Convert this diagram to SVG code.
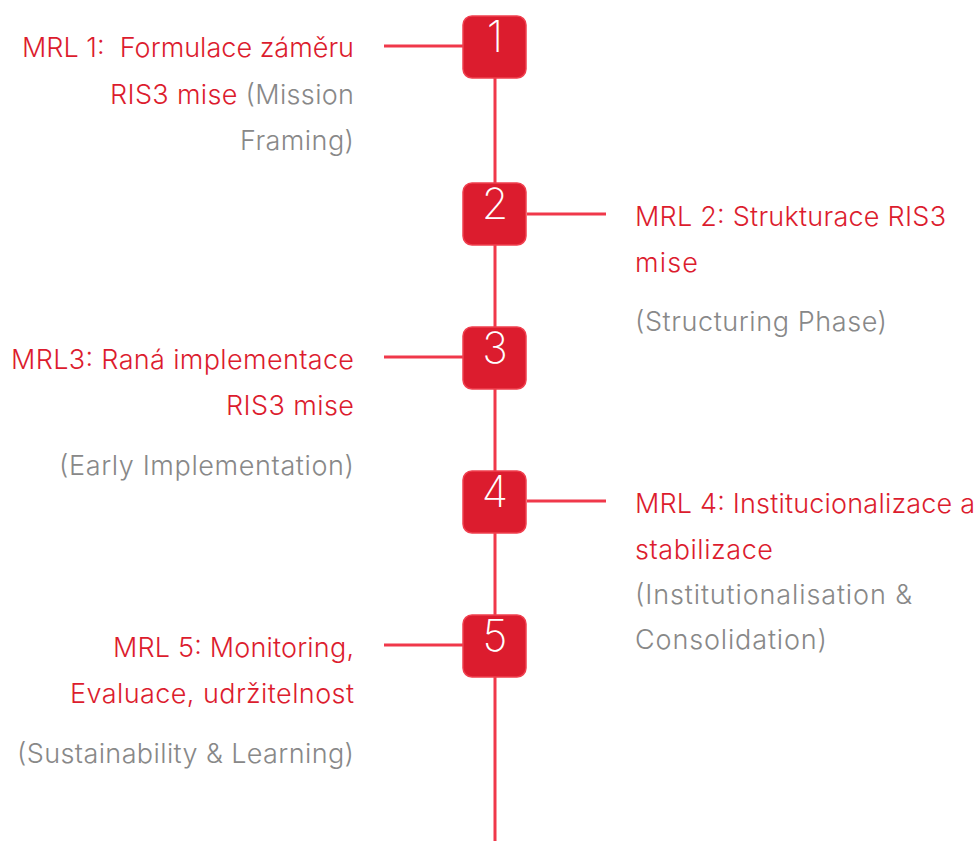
<svg xmlns="http://www.w3.org/2000/svg" width="978" height="841" viewBox="0 0 978 841">
<style>
.box{fill:#dc1c2e;stroke:#f0404f;stroke-width:1.5}
.num{fill:#fff;font-family:Inter,"Liberation Sans",sans-serif;font-weight:200;font-size:43px;text-anchor:middle}
.ln{stroke:#f0384a;stroke-width:3;fill:none}
.t{font-family:Inter,"Liberation Sans",sans-serif;font-weight:300;font-size:27px}
.r{fill:#dc1c2e}
.g{fill:#888}
.L{text-anchor:end}
</style>
<rect width="978" height="841" fill="#fff"/>
<g id="connectors">
<line class="ln" x1="495" y1="78" x2="495" y2="841"/>
<line class="ln" x1="384" y1="46" x2="463" y2="46"/>
<line class="ln" x1="527" y1="214" x2="606" y2="214"/>
<line class="ln" x1="384" y1="357" x2="463" y2="357"/>
<line class="ln" x1="527" y1="501" x2="606" y2="501"/>
<line class="ln" x1="384" y1="645" x2="463" y2="645"/>
</g>
<g id="n1"><rect class="box" x="463" y="16" width="63" height="62" rx="9"/><text class="num" x="495" y="52">1</text>
<text class="t r L" x="354" y="57" xml:space="preserve" textLength="332" lengthAdjust="spacing">MRL 1:  Formulace záměru</text>
<text class="t L" x="354" y="104" textLength="244" lengthAdjust="spacing"><tspan class="r">RIS3 mise</tspan><tspan class="g"> (Mission</tspan></text>
<text class="t g L" x="354" y="150" textLength="114" lengthAdjust="spacing">Framing)</text></g>
<g id="n2"><rect class="box" x="463" y="183" width="63" height="62" rx="9"/><text class="num" x="495" y="219">2</text>
<text class="t r" x="635" y="226" textLength="311" lengthAdjust="spacing">MRL 2: Strukturace RIS3</text>
<text class="t r" x="635" y="272" textLength="63" lengthAdjust="spacing">mise</text>
<text class="t g" x="635" y="331" textLength="252" lengthAdjust="spacing">(Structuring Phase)</text></g>
<g id="n3"><rect class="box" x="463" y="327" width="63" height="62" rx="9"/><text class="num" x="495" y="363">3</text>
<text class="t r L" x="354" y="369" textLength="343" lengthAdjust="spacing">MRL3: Raná implementace</text>
<text class="t r L" x="354" y="415" textLength="128" lengthAdjust="spacing">RIS3 mise</text>
<text class="t g L" x="354" y="475" textLength="295" lengthAdjust="spacing">(Early Implementation)</text></g>
<g id="n4"><rect class="box" x="463" y="471" width="63" height="62" rx="9"/><text class="num" x="495" y="507">4</text>
<text class="t r" x="635" y="513" textLength="340" lengthAdjust="spacing">MRL 4: Institucionalizace a</text>
<text class="t r" x="635" y="559" textLength="138" lengthAdjust="spacing">stabilizace</text>
<text class="t g" x="635" y="604" textLength="277" lengthAdjust="spacing">(Institutionalisation &amp;</text>
<text class="t g" x="635" y="649" textLength="192" lengthAdjust="spacing">Consolidation)</text></g>
<g id="n5"><rect class="box" x="463" y="615" width="63" height="62" rx="9"/><text class="num" x="495" y="651">5</text>
<text class="t r L" x="354" y="657" textLength="241" lengthAdjust="spacing">MRL 5: Monitoring,</text>
<text class="t r L" x="354" y="703" textLength="284" lengthAdjust="spacing">Evaluace, udržitelnost</text>
<text class="t g L" x="354" y="763" textLength="337" lengthAdjust="spacing">(Sustainability &amp; Learning)</text></g>
</svg>
